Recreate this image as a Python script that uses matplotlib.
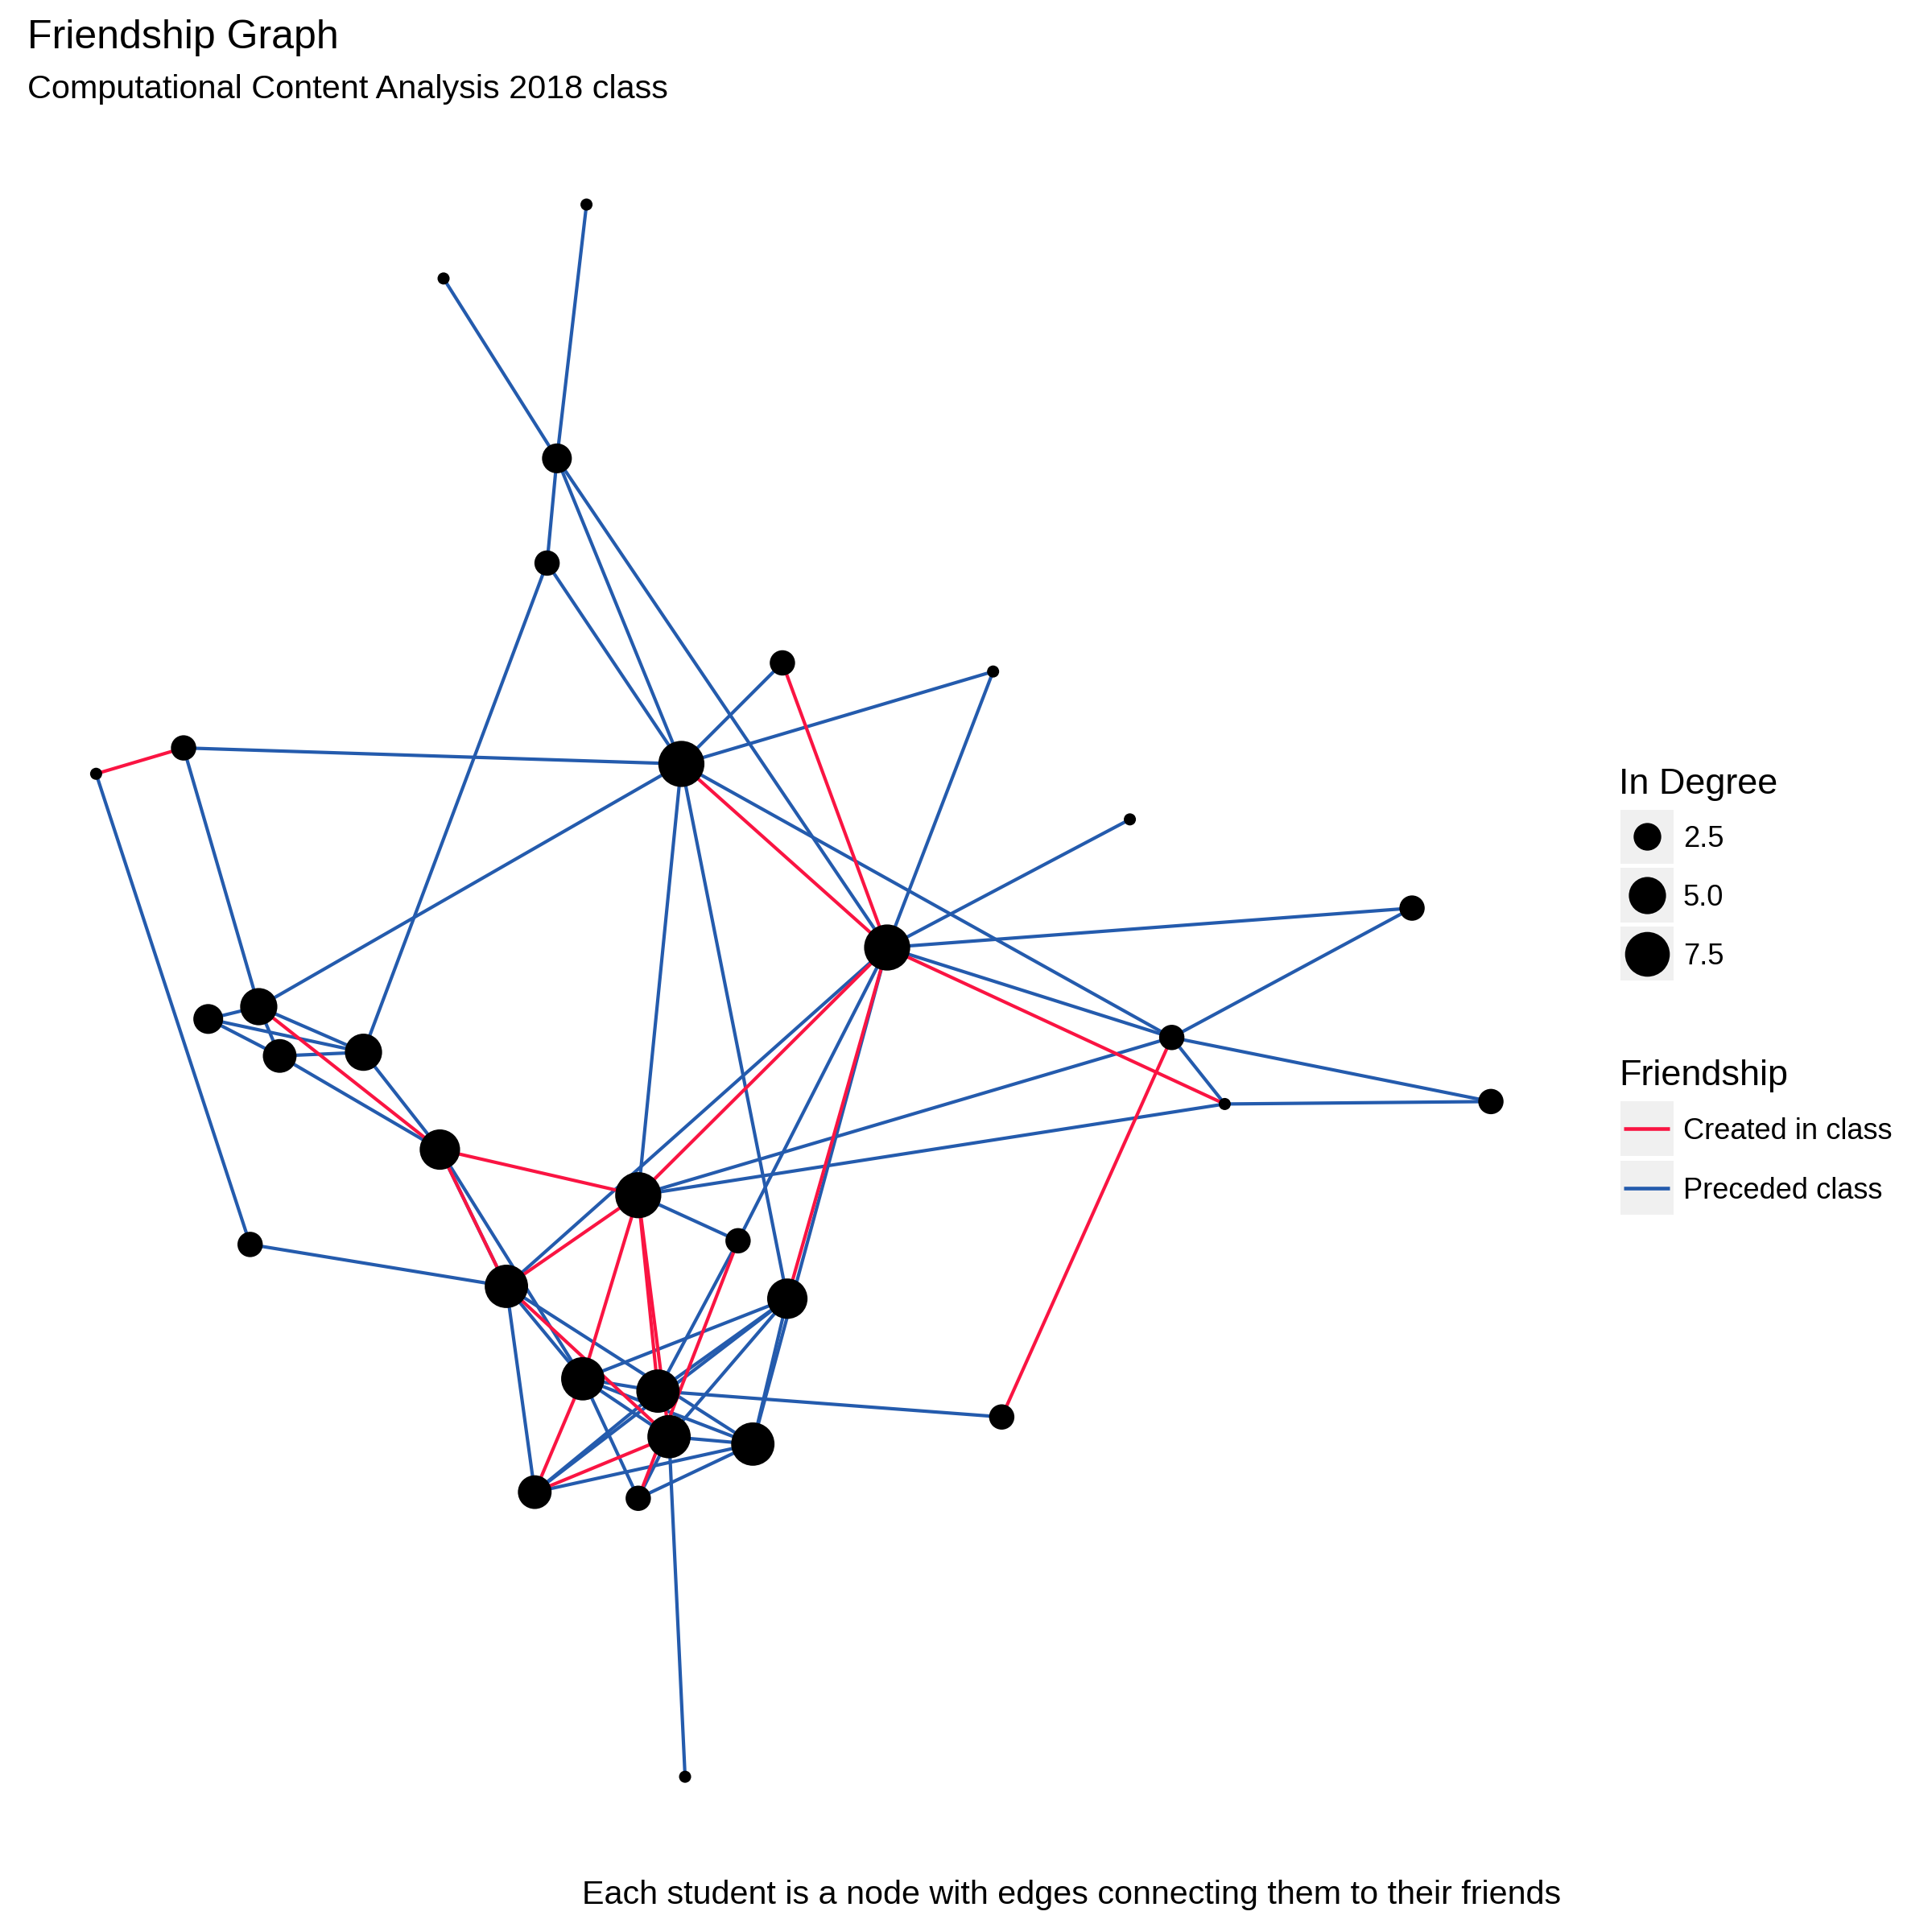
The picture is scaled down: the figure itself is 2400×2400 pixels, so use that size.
import matplotlib
matplotlib.use("Agg")
import matplotlib.pyplot as plt
from matplotlib.patches import Rectangle

plt.rcParams["font.family"] = ["Liberation Sans", "DejaVu Sans"]

RED = "#FA1442"
BLUE = "#245BAD"
KEY_BG = "#F0F0F0"

# ── graph layout (node positions, y grows downward) and in-degree per student ──
node_x = [476, 360, 452, 444, 635, 806, 553, 149, 78, 917, 1146,
          720, 210, 169, 227, 295, 951, 994, 1210, 357, 518, 599,
          203, 411, 639, 473, 534, 813, 543, 611, 434, 518, 556]
node_y = [166, 226, 372, 457, 538, 545, 620, 607, 628, 665, 737,
          769, 817, 827, 857, 854, 842, 896, 894, 933, 970, 1007,
          1010, 1044, 1054, 1119, 1129, 1150, 1166, 1172, 1211, 1216, 1442]
in_degree = [0, 0, 3, 2, 2, 0, 8, 2, 0, 0, 2,
             8, 5, 3, 4, 5, 2, 0, 2, 6, 8, 2,
             2, 7, 6, 7, 7, 2, 7, 7, 4, 2, 0]

# ── friendships (1-based node ids) ──
preceded_from = [1, 2, 3, 3, 3, 4, 4, 5, 6, 6, 8, 8, 9, 7, 7, 7, 7, 10, 11, 11,
                 12, 12, 12, 22, 12, 13, 13, 13, 14, 14, 15, 15, 16, 17, 17, 18,
                 17, 18, 20, 20, 21, 23, 24, 24, 24, 26, 26, 26, 26, 26, 25, 29,
                 27, 31, 31, 31, 32, 29, 29, 29, 27]
preceded_to = [3, 3, 4, 7, 12, 7, 16, 7, 7, 12, 7, 13, 23, 13, 17, 21, 25, 12, 12, 17,
               17, 24, 22, 27, 30, 14, 15, 16, 16, 15, 16, 20, 20, 18, 19, 19,
               21, 21, 24, 26, 22, 24, 31, 26, 30, 27, 29, 30, 25, 32, 30, 25,
               25, 25, 27, 30, 30, 30, 32, 33, 28]
created_from = [9, 5, 7, 12, 12, 12, 13, 20, 20, 21, 21, 26, 21, 21, 22, 24, 29, 17]
created_to = [8, 12, 12, 18, 21, 25, 20, 21, 24, 24, 26, 31, 27, 29, 32, 29, 31, 28]

legend_degrees = [2.5, 5.0, 7.5]
friendship_labels = ["Created in class", "Preceded class"]
friendship_colors = [RED, BLUE]


def node_size(v):
    # marker area grows linearly with in-degree
    return 13 + 22 * v


fig = plt.figure(figsize=(8, 8), dpi=300)
ax = fig.add_axes([0, 0, 1, 1])
ax.set_xlim(0, 1568)
ax.set_ylim(1568, 0)
ax.axis("off")

# edges: blue first, red on top
edges = [(a, b, BLUE) for a, b in zip(preceded_from, preceded_to)]
edges += [(a, b, RED) for a, b in zip(created_from, created_to)]
for a, b, col in edges:
    ax.plot([node_x[a - 1], node_x[b - 1]], [node_y[a - 1], node_y[b - 1]],
            color=col, linewidth=1.0, solid_capstyle="butt", zorder=1)

ax.scatter(node_x, node_y, s=[node_size(v) for v in in_degree],
           color="black", linewidths=0, zorder=3)

# ── titles ──
ax.text(22.5, 39, "Friendship Graph", fontsize=12, ha="left", va="baseline")
ax.text(22.5, 80, "Computational Content Analysis 2018 class",
        fontsize=9.95, ha="left", va="baseline")
ax.text(1267, 1545, "Each student is a node with edges connecting them to their friends",
        fontsize=9.9, ha="right", va="baseline")

# ── legend: In Degree ──
key_x, key_w = 1315, 43
ax.text(1314, 644.5, "In Degree", fontsize=10.8, ha="left", va="baseline")
for i, v in enumerate(legend_degrees):
    top = 657 + i * 47.5
    ax.add_patch(Rectangle((key_x, top), key_w, 44, facecolor=KEY_BG,
                           edgecolor="none", zorder=2))
    ax.scatter([key_x + key_w / 2], [top + 22], s=node_size(v),
               color="black", linewidths=0, zorder=3)
    ax.text(1366, top + 22 + 8.5, f"{v:.1f}", fontsize=8.7,
            ha="left", va="baseline")

# ── legend: Friendship ──
ax.text(1314, 881, "Friendship", fontsize=10.8, ha="left", va="baseline")
for i, (lab, col) in enumerate(zip(friendship_labels, friendship_colors)):
    top = 894 + i * 48
    ax.add_patch(Rectangle((key_x, top), key_w, 44, facecolor=KEY_BG,
                           edgecolor="none", zorder=2))
    ax.plot([1318, 1355], [top + 22, top + 22], color=col,
            linewidth=1.1, solid_capstyle="butt", zorder=3)
    ax.text(1366, top + 22 + 8.5, lab, fontsize=8.7,
            ha="left", va="baseline")

fig.savefig("out.png", dpi=300, facecolor="white")
print("Saved out.png")
